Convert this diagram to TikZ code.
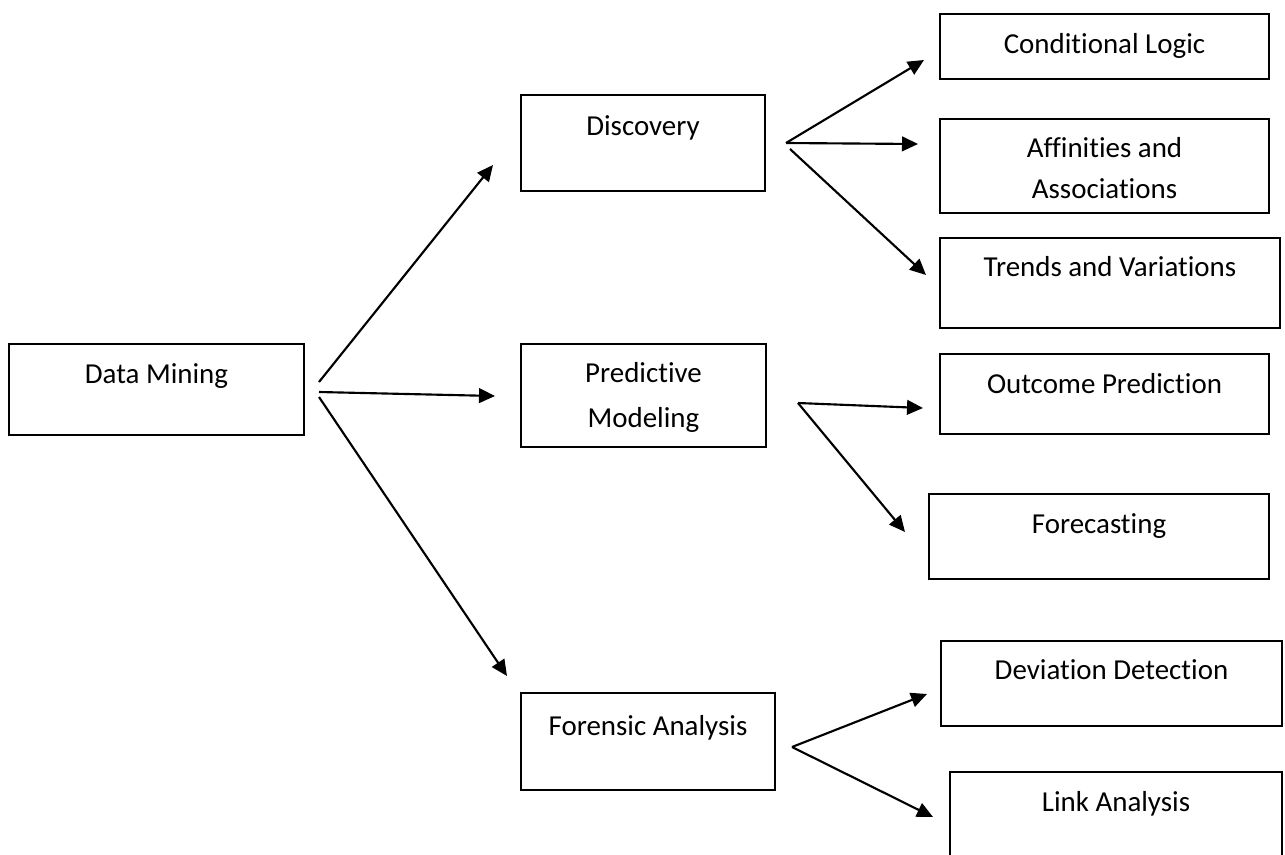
\documentclass[tikz,border=0pt]{standalone}
\usepackage{fontspec}
\setmainfont{Carlito}[Ligatures=NoCommon]
\usetikzlibrary{arrows.meta}
\begin{document}
\begin{tikzpicture}[x=0.75pt,y=-0.75pt,
  box/.style={draw, line width=1.3pt, inner sep=0pt, outer sep=0pt},
  sz/.style 2 args={minimum width=#1*0.75pt, minimum height=#2*0.75pt},
  lbl/.style={font=\fontsize{21.7pt}{26pt}\selectfont, inner sep=0pt, anchor=base, align=center},
  conn/.style={line width=1.6pt, -{Triangle[length=12pt,width=11pt]}}
]
\useasboundingbox (0,0) rectangle (1285,854);
\clip (0,0) rectangle (1285,854);

% boxes
\node[box, sz={295}{91}]  (dm)   at (156.5,389.5) {};
\node[box, sz={244}{96}]  (disc) at (643,143) {};
\node[box, sz={245}{103}] (pred) at (643.5,395.5) {};
\node[box, sz={254}{97}]  (fora) at (648,741.5) {};
\node[box, sz={329}{65}]  (cond) at (1104.5,46.5) {};
\node[box, sz={329}{94}]  (aff)  at (1104.5,166) {};
\node[box, sz={340}{90}]  (trd)  at (1110,283) {};
\node[box, sz={329}{80}]  (outp) at (1104.5,394) {};
\node[box, sz={340}{85}]  (fcst) at (1099,536.5) {};
\node[box, sz={341}{85}]  (dev)  at (1111.5,683.5) {};
\node[box, sz={332}{100}] (lnk)  at (1116,822) {};

% labels (anchor base = baseline of the last line)
\node[lbl] (dmt)   at (156.5,383) {Data Mining};
\node[lbl] (disct) at (643,135) {Discovery};
\node[lbl, font=\fontsize{21.7pt}{33.75pt}\selectfont] (predt) at (643.5,427) {Predictive\\Modeling};
\node[lbl] (forat) at (648,735) {Forensic Analysis};
\node[lbl] (condt) at (1104.5,53) {Conditional Logic};
\node[lbl, font=\fontsize{21.7pt}{30.75pt}\selectfont] (afft) at (1104.5,198) {Affinities and\\Associations};
\node[lbl] (trdt)  at (1110,276) {Trends and Variations};
\node[lbl] (outpt) at (1104.5,393) {Outcome Prediction};
\node[lbl] (fcstt) at (1099,533) {Forecasting};
\node[lbl] (devt)  at (1111.5,679) {Deviation Detection};
\node[lbl] (lnkt)  at (1116,811) {Link Analysis};

% connector end points
\coordinate (dmA) at (319,382);
\coordinate (dmB) at (319,392);
\coordinate (dmC) at (319,397);
\coordinate (discIn) at (493,165);
\coordinate (predIn) at (495,396);
\coordinate (foraIn) at (507,676);
\coordinate (discA) at (786,143);
\coordinate (discC) at (790,149);
\coordinate (condIn) at (924,60);
\coordinate (affIn) at (918,144);
\coordinate (trdIn) at (926,275);
\coordinate (predO) at (798,403);
\coordinate (outpIn) at (923,408);
\coordinate (fcstIn) at (905,532);
\coordinate (foraO) at (792,747);
\coordinate (devIn) at (927,694);
\coordinate (lnkIn) at (933,817);

% connectors
\draw[conn] (dmA) -- (discIn);
\draw[conn] (dmB) -- (predIn);
\draw[conn] (dmC) -- (foraIn);
\draw[conn] (discA) -- (condIn);
\draw[conn] (discA) -- (affIn);
\draw[conn] (discC) -- (trdIn);
\draw[conn] (predO) -- (outpIn);
\draw[conn] (predO) -- (fcstIn);
\draw[conn] (foraO) -- (devIn);
\draw[conn] (foraO) -- (lnkIn);
\end{tikzpicture}
\end{document}
